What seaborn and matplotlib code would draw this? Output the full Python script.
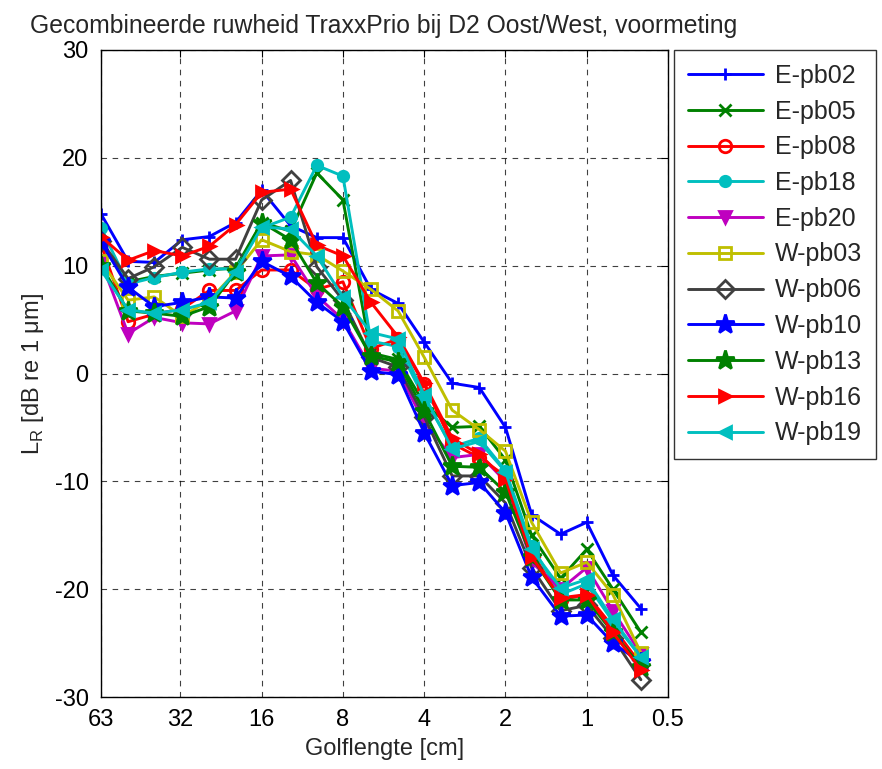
import numpy as np
import pandas as pd
import matplotlib
matplotlib.use('Agg')
import matplotlib.pyplot as plt
import seaborn as sns

# Golflengtes (tertsbanden) in cm
golflengte = [63, 50, 40, 31.5, 25, 20, 16, 12.5, 10, 8, 6.3, 5, 4, 3.15, 2.5, 2, 1.6, 1.25, 1, 0.8, 0.63]

e_pb02 = [14.8, 10.4, 10.3, 12.4, 12.7, 14.0, 17.0, 13.7, 12.6, 12.6, 7.8, 6.5, 2.9, -0.9, -1.3, -5.0, -13.1, -14.9, -13.8, -18.7, -21.8]
e_pb05 = [12.0, 8.5, 9.0, 9.3, 9.6, 9.8, 14.0, 13.2, 18.6, 16.1, 1.9, 1.3, -2.8, -5.0, -4.9, -8.0, -15.0, -19.0, -16.3, -20.0, -24.0]
e_pb08 = [12.0, 4.8, 5.5, 6.0, 7.7, 7.7, 9.6, 9.6, 7.8, 8.5, 2.3, 3.2, -1.0, -6.5, -7.8, -9.5, -16.5, -21.0, -20.5, -23.5, -27.0]
e_pb18 = [13.5, 8.3, 8.9, 9.4, 9.7, 9.7, 13.5, 14.5, 19.3, 18.3, 3.0, 2.5, -2.3, -6.8, -6.0, -9.0, -16.0, -20.5, -19.5, -23.0, -26.3]
e_pb20 = [10.4, 3.7, 5.2, 4.7, 4.6, 5.8, 10.9, 11.0, 7.2, 5.0, 0.5, 0.2, -4.5, -7.8, -7.5, -10.0, -17.5, -20.0, -18.0, -22.0, -26.0]
w_pb03 = [10.4, 6.8, 7.1, 5.3, 6.8, 9.4, 12.4, 11.3, 11.0, 9.5, 7.8, 5.8, 1.5, -3.4, -5.2, -7.2, -13.8, -18.5, -17.5, -20.5, -25.9]
w_pb06 = [12.3, 8.8, 9.9, 11.7, 10.6, 10.6, 16.1, 17.9, 9.9, 6.8, 1.5, 0.6, -4.0, -9.5, -9.5, -12.0, -18.0, -22.0, -21.5, -24.5, -28.4]
w_pb10 = [12.2, 8.0, 6.2, 6.6, 7.1, 7.0, 10.4, 9.0, 6.6, 4.8, 0.2, -0.1, -5.5, -10.4, -10.1, -12.9, -18.9, -22.5, -22.4, -25.0, -26.8]
w_pb13 = [10.0, 5.8, 5.6, 5.3, 6.2, 9.4, 14.0, 12.4, 8.4, 6.2, 1.6, 1.1, -3.5, -8.6, -8.7, -11.0, -17.0, -21.0, -21.0, -24.0, -27.2]
w_pb16 = [12.7, 10.5, 11.4, 10.9, 11.8, 13.8, 16.8, 17.1, 11.9, 10.9, 6.6, 3.4, -0.9, -6.0, -7.5, -9.8, -17.0, -20.8, -20.5, -24.0, -27.5]
w_pb19 = [9.6, 5.9, 5.6, 5.9, 6.6, 9.4, 13.6, 13.4, 10.9, 7.1, 3.8, 3.2, -2.0, -7.0, -6.3, -9.1, -16.3, -19.9, -19.1, -22.8, -26.3]

namen = ['E-pb02', 'E-pb05', 'E-pb08', 'E-pb18', 'E-pb20',
         'W-pb03', 'W-pb06', 'W-pb10', 'W-pb13', 'W-pb16', 'W-pb19']
reeksen = [e_pb02, e_pb05, e_pb08, e_pb18, e_pb20,
           w_pb03, w_pb06, w_pb10, w_pb13, w_pb16, w_pb19]

x_ticks = [63, 32, 16, 8, 4, 2, 1, 0.5]
x_ticklabels = ['63', '32', '16', '8', '4', '2', '1', '0.5']

# MATLAB-achtige stijlen: (kleur, marker, gevuld)
stijlen = [
    ((0, 0, 1), '+', True),
    ((0, 0.5, 0), 'x', True),
    ((1, 0, 0), 'o', False),
    ((0, 0.75, 0.75), 'o', True),
    ((0.75, 0, 0.75), 'v', True),
    ((0.75, 0.75, 0), 's', False),
    ((0.25, 0.25, 0.25), 'D', False),
    ((0, 0, 1), '*', True),
    ((0, 0.5, 0), '*', True),
    ((1, 0, 0), '>', True),
    ((0, 0.75, 0.75), '<', True),
]

sns.set_style('white')
plt.rcParams['font.family'] = ['Liberation Sans', 'DejaVu Sans']
plt.rcParams['font.size'] = 16
plt.rcParams['axes.unicode_minus'] = False

fig = plt.figure(figsize=(8.82, 7.69), dpi=100)
ax = fig.add_axes([101 / 882, 1 - 697 / 769, (668 - 101) / 882, (697 - 50) / 769])

for naam, waarden, (kleur, marker, gevuld) in zip(namen, reeksen, stijlen):
    df = pd.DataFrame({'golflengte': golflengte, 'LR': waarden})
    ms = 9
    if marker == '*':
        ms = 14
    elif marker == 'o' and gevuld:
        ms = 7.5
    sns.lineplot(data=df, x='golflengte', y='LR', ax=ax, sort=False,
                 color=kleur, linewidth=2.1, marker=marker, markersize=ms,
                 markerfacecolor=kleur if gevuld else 'none',
                 markeredgecolor=kleur, markeredgewidth=2.0, label=naam)

ax.set_xscale('log')
ax.set_xlim(63, 0.5)
ax.set_ylim(-30, 30)
ax.set_xticks(x_ticks)
ax.set_xticklabels(x_ticklabels)
ax.minorticks_off()
ax.set_yticks(np.arange(-30, 31, 10))

ax.grid(True, color='black', linestyle=(0, (5, 5)), linewidth=0.8, alpha=0.75)
ax.tick_params(direction='in', length=5, width=0.8, top=True, right=True,
               labelsize=17, pad=9, colors='black')
for sp in ax.spines.values():
    sp.set_color('black')
    sp.set_linewidth(1.0)

ax.set_xlabel('Golflengte [cm]', fontsize=17, labelpad=5)
ax.set_ylabel('L$_\\mathregular{R}$ [dB re 1 μm]', fontsize=17, labelpad=6)
ax.set_title('Gecombineerde ruwheid TraxxPrio bij D2 Oost/West, voormeting',
             fontsize=17.8, loc='left', x=-0.125, pad=12)

leg = ax.legend(loc='upper left', bbox_to_anchor=(674 / 882, 1 - 50 / 769),
                bbox_transform=fig.transFigure, fontsize=18, frameon=True,
                fancybox=False, edgecolor='black', handlelength=3.0,
                labelspacing=0.47, borderpad=0.55, handletextpad=0.5,
                borderaxespad=0)
leg.get_frame().set_linewidth(1.0)

fig.savefig('out.png', dpi=100)
